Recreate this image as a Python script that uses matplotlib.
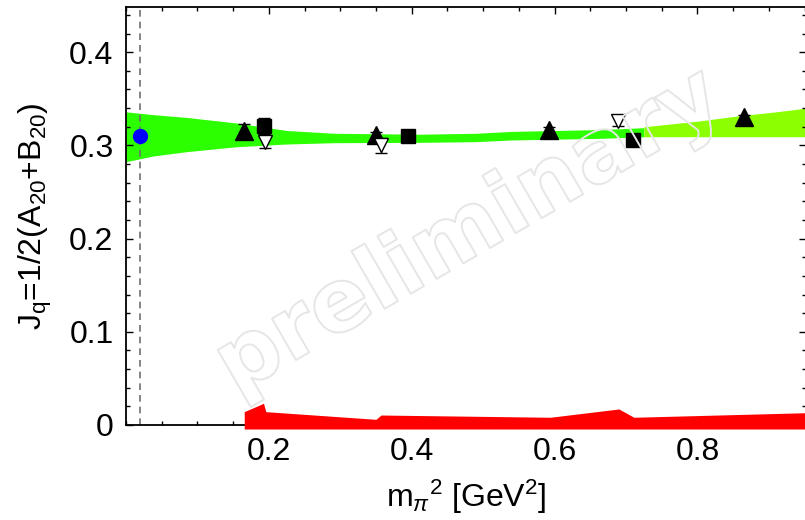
import matplotlib
matplotlib.use("Agg")
import matplotlib.pyplot as plt
import matplotlib.patheffects as pe
from matplotlib.ticker import MultipleLocator, FixedLocator

plt.rcParams['font.family'] = ['Liberation Sans', 'DejaVu Sans']
plt.rcParams['mathtext.fontset'] = 'custom'
plt.rcParams['mathtext.rm'] = 'Liberation Sans'
plt.rcParams['mathtext.it'] = 'Liberation Sans:italic'
plt.rcParams['mathtext.bf'] = 'Liberation Sans:bold'

# chiral extrapolation band (lattice range)
band_x = [0.0, 0.038, 0.085, 0.155, 0.225, 0.291, 0.412, 0.49, 0.539, 0.665, 0.725]
band_hi = [0.336, 0.333, 0.330, 0.324, 0.316, 0.313, 0.312, 0.313, 0.315, 0.317, 0.319]
band_lo = [0.2825, 0.2886, 0.2933, 0.2986, 0.3015, 0.3029, 0.3033, 0.304, 0.3058, 0.3076, 0.3093]

# continuation of the band at heavy pion masses
band2_x = [0.725, 0.80, 0.86, 0.91, 0.952]
band2_hi = [0.320, 0.326, 0.332, 0.336, 0.340]
band2_lo = [0.3093, 0.3093, 0.3093, 0.3093, 0.3093]

# disconnected / systematic band near zero
red_x = [0.1655, 0.1925, 0.1958, 0.35, 0.357, 0.594, 0.678, 0.690, 0.711, 0.952]
red_hi = [0.0143, 0.0233, 0.0143, 0.0061, 0.0107, 0.0083, 0.0161, 0.0172, 0.0083, 0.0132]
red_lo = [-0.0043] * len(red_x)

# lattice points
tri_x = [0.1645, 0.350, 0.592, 0.865]
tri_y = [0.315, 0.311, 0.3165, 0.330]
tri_err = [0.008, 0.003, 0.003, 0.003]

sq_x = [0.1926, 0.3946, 0.710]
sq_y = [0.3208, 0.3100, 0.3056]
sq_err = [0.009, 0.003, 0.003]

inv_x = [0.195, 0.357, 0.689]
inv_y = [0.304, 0.300, 0.3265]
inv_err = [0.007, 0.008, 0.006]

phys_m2 = 0.0196
phys_J = 0.310

fig = plt.figure(figsize=(8.05, 5.2), dpi=100)
ax = fig.add_axes([126 / 805, 1 - 425 / 520, 680 / 805, 418 / 520])

ax.fill_between(band_x, band_lo, band_hi, color='#2bff00', lw=0, zorder=1)
ax.fill_between(band2_x, band2_lo, band2_hi, color='#8cff00', lw=0, zorder=1)
ax.fill_between(red_x, red_lo, red_hi, color='#ff0000', lw=0, zorder=3, clip_on=False)

ax.axvline(phys_m2, color='#707070', ls=(0, (4, 3)), lw=1.2, zorder=2)

ax.errorbar(tri_x, tri_y, yerr=tri_err, fmt='^', ms=13, color='black', mec='black',
            elinewidth=1, capsize=4, zorder=4)
ax.errorbar(sq_x, sq_y, yerr=sq_err, fmt='s', ms=10, color='black', mec='black',
            elinewidth=1, capsize=4, zorder=4)
ax.errorbar(inv_x, inv_y, yerr=inv_err, fmt='v', ms=10.5, color='black', mfc='white',
            mec='black', mew=1, elinewidth=1, capsize=4, zorder=4)
ax.plot([phys_m2], [phys_J], 'o', ms=10, color='#0000ff', zorder=5)

ax.text(0.505, 0.46, 'preliminary', transform=ax.transAxes, fontsize=63,
        family='DejaVu Sans', fontweight='bold', rotation=30, ha='center',
        va='center', color='none',
        path_effects=[pe.withStroke(linewidth=1.4, foreground='#e6e6e6')], zorder=6)

ax.set_xlim(0, 0.952)
ax.set_ylim(0, 0.4485)

ax.xaxis.set_major_locator(FixedLocator([0.2, 0.4, 0.6, 0.8]))
ax.xaxis.set_minor_locator(MultipleLocator(0.05))
ax.yaxis.set_major_locator(FixedLocator([0, 0.1, 0.2, 0.3, 0.4]))
ax.yaxis.set_minor_locator(MultipleLocator(0.02))
ax.set_yticklabels(['0', '0.1', '0.2', '0.3', '0.4'])

ax.tick_params(which='both', direction='in', top=True, right=True, width=1)
ax.tick_params(which='major', length=5, labelsize=23, pad=9)
ax.tick_params(which='minor', length=3)
for s in ax.spines.values():
    s.set_linewidth(1.3)

ax.set_xlabel(r'm$_{\pi}$$^{2}$ [GeV$^{2}$]', fontsize=23)
ax.xaxis.set_label_coords(0.5, -0.127)
ax.set_ylabel(r'J$_{\mathrm{q}}$=1/2(A$_{20}$+B$_{20}$)', fontsize=23)
ax.yaxis.set_label_coords(-0.106, 0.5)

fig.savefig('out.png', dpi=100)
